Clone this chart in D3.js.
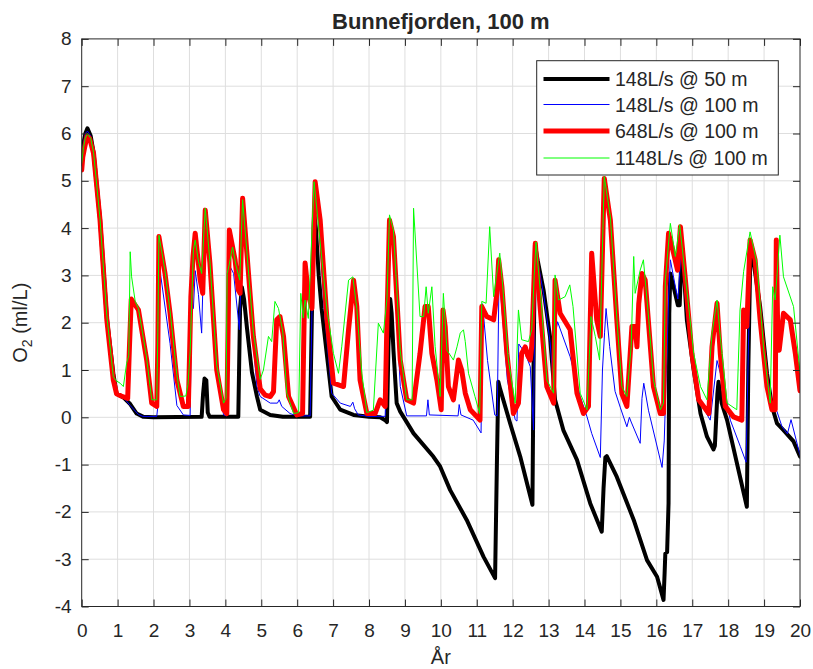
<!DOCTYPE html>
<html><head><meta charset="utf-8">
<script src="https://cdn.jsdelivr.net/npm/d3@7"></script>
<style>body{margin:0;background:#fff}svg{display:block}text{font-family:"Liberation Sans",Arial,sans-serif;fill:#262626}</style>
</head><body><svg id="c" width="813" height="669"></svg>
<script>
const xTicks = d3.range(0, 21, 1);
const yTicks = d3.range(-4, 9, 1);
const seriesNames = ["148L/s @ 50 m", "148L/s @ 100 m", "648L/s @ 100 m", "1148L/s @ 100 m"];
const seriesColors = ["#000000", "#0000ff", "#ff0000", "#00ff00"];
const seriesWidths = [4, 1, 5, 1];

const black50 = [[0,5.35],[0.05,5.8],[0.1,6.0],[0.16,6.11],[0.25,5.95],[0.33,5.6],[0.51,4.2],[0.7,2.1],[0.88,0.93],[0.97,0.5],[1.16,0.42],[1.35,0.28],[1.53,0.08],[1.72,0.01],[2.0,0.0],[3.34,0.01],[3.38,0.5],[3.42,0.82],[3.47,0.78],[3.51,0.1],[3.56,0.01],[4.36,0.01],[4.41,2.3],[4.46,2.75],[4.52,2.5],[4.6,1.9],[4.74,0.95],[4.88,0.44],[4.97,0.16],[5.25,0.05],[5.6,0.01],[6.36,0.01],[6.41,2.2],[6.47,4.34],[6.52,4.0],[6.6,3.0],[6.68,2.3],[6.83,1.3],[6.96,0.44],[7.2,0.16],[7.57,0.05],[8.0,0.01],[8.31,0.0],[8.45,-0.06],[8.5,-0.1],[8.54,1.5],[8.59,2.5],[8.63,2.2],[8.68,1.42],[8.77,0.3],[8.87,0.12],[8.96,0.01],[9.24,-0.34],[9.79,-0.83],[9.98,-1.04],[10.26,-1.54],[10.72,-2.17],[11.19,-2.95],[11.51,-3.4],[11.56,-1.0],[11.6,0.75],[11.65,0.6],[11.93,-0.13],[12.21,-0.83],[12.55,-1.85],[12.58,1.0],[12.62,3.65],[12.7,3.3],[12.86,2.69],[13.04,1.7],[13.18,0.37],[13.41,-0.27],[13.79,-0.9],[14.16,-1.82],[14.48,-2.42],[14.53,-1.5],[14.58,-0.85],[14.62,-0.82],[14.9,-1.26],[15.37,-2.17],[15.74,-3.02],[16.02,-3.37],[16.2,-3.86],[16.23,-3.3],[16.25,-2.88],[16.3,-2.85],[16.34,-1.82],[16.36,2.2],[16.39,3.04],[16.48,2.76],[16.6,2.37],[16.65,2.37],[16.71,3.6],[16.75,3.3],[16.85,2.06],[17.04,1.0],[17.23,0.08],[17.41,-0.41],[17.59,-0.68],[17.63,-0.6],[17.7,0.5],[17.73,0.75],[17.82,0.3],[17.97,-0.06],[18.52,-1.89],[18.56,1.0],[18.62,3.55],[18.67,3.47],[18.89,2.34],[19.08,0.93],[19.22,0.23],[19.36,-0.13],[19.54,-0.27],[19.82,-0.51],[20.0,-0.83]];

const blue100 = [[0,5.35],[0.05,5.8],[0.1,6.0],[0.16,6.05],[0.25,5.95],[0.33,5.6],[0.51,4.2],[0.7,2.1],[0.88,0.85],[0.93,0.5],[1.16,0.42],[1.35,0.25],[1.58,0.06],[1.7,0.02],[2.09,0.02],[2.13,0.3],[2.15,3.8],[2.2,3.0],[2.46,1.56],[2.65,0.25],[2.83,0.05],[3.02,0.04],[3.06,2.34],[3.11,2.3],[3.16,3.1],[3.25,2.6],[3.34,1.78],[3.4,3.5],[3.44,4.3],[3.5,3.9],[3.6,3.1],[3.76,1.0],[3.95,0.05],[4.04,0.03],[4.08,2.0],[4.13,3.19],[4.23,3.04],[4.39,1.85],[4.43,2.8],[4.48,4.6],[4.55,4.0],[4.7,2.2],[4.88,0.65],[4.97,0.44],[5.25,0.3],[5.45,0.3],[5.5,0.37],[5.57,0.23],[5.8,0.08],[6.0,0.03],[6.36,0.03],[6.41,2.2],[6.5,4.95],[6.6,4.2],[6.75,2.3],[6.96,0.51],[7.2,0.3],[7.48,0.23],[7.55,0.32],[7.6,0.18],[7.7,0.05],[8.0,0.02],[8.45,0.02],[8.5,1.5],[8.57,4.1],[8.68,3.5],[8.87,0.65],[9.05,0.03],[9.6,0.03],[9.64,0.37],[9.68,0.05],[10.48,0.03],[10.51,0.27],[10.56,0.05],[10.9,-0.06],[11.12,-0.33],[11.16,2.4],[11.3,1.2],[11.5,0.05],[11.57,0.03],[11.62,3.0],[11.7,2.3],[11.85,0.8],[12.07,-0.05],[12.12,-0.08],[12.17,1.55],[12.35,1.35],[12.49,1.07],[12.58,-0.27],[12.61,2.0],[12.64,3.6],[12.7,3.3],[12.86,2.6],[13.04,1.6],[13.15,0.6],[13.2,1.8],[13.25,2.02],[13.6,1.28],[13.88,0.44],[14.07,0.01],[14.2,-0.34],[14.44,-0.85],[14.5,1.0],[14.56,1.8],[14.6,2.3],[14.7,1.5],[14.85,0.55],[15.0,0.2],[15.18,-0.2],[15.25,0.0],[15.3,-0.1],[15.55,-0.55],[15.6,0.4],[15.65,0.72],[15.78,0.15],[16.16,-1.06],[16.22,-0.5],[16.3,1.5],[16.34,2.5],[16.39,3.33],[16.53,2.76],[16.6,2.5],[16.7,3.6],[16.85,2.1],[17.04,1.1],[17.23,0.3],[17.5,-0.06],[17.66,1.0],[17.69,1.2],[17.88,0.65],[18.06,-0.06],[18.34,-0.62],[18.5,-0.95],[18.55,1.0],[18.62,3.5],[18.7,3.4],[18.89,2.3],[19.08,0.93],[19.22,0.3],[19.36,0.12],[19.5,-0.2],[19.65,-0.35],[19.75,-0.05],[20.0,-0.8]];

const red648 = [[0,5.23],[0.03,5.5],[0.08,5.7],[0.15,5.95],[0.22,5.9],[0.33,5.58],[0.51,4.17],[0.7,2.06],[0.88,0.79],[0.97,0.5],[1.1,0.45],[1.28,0.4],[1.33,1.5],[1.38,2.5],[1.49,2.37],[1.58,2.27],[1.81,1.21],[1.95,0.3],[2.09,0.23],[2.12,1.5],[2.15,3.82],[2.32,3.04],[2.46,2.2],[2.65,0.79],[2.83,0.23],[2.97,0.23],[3.04,2.55],[3.1,3.4],[3.16,3.89],[3.3,2.9],[3.37,2.62],[3.44,4.38],[3.57,3.26],[3.76,1.0],[3.95,0.16],[4.04,0.08],[4.08,2.0],[4.11,3.96],[4.27,3.33],[4.36,2.69],[4.41,2.62],[4.48,4.63],[4.6,3.47],[4.78,1.71],[4.97,0.6],[5.11,0.47],[5.25,0.44],[5.34,0.54],[5.43,2.06],[5.52,2.13],[5.62,1.71],[5.76,0.44],[5.99,0.05],[6.15,0.08],[6.18,1.5],[6.22,3.26],[6.31,2.6],[6.41,2.3],[6.5,4.98],[6.64,4.17],[6.83,2.06],[7.01,0.72],[7.29,0.65],[7.43,1.85],[7.57,2.9],[7.66,2.34],[7.75,0.79],[7.94,0.08],[8.17,0.08],[8.31,0.37],[8.45,0.23],[8.5,2.06],[8.57,4.17],[8.68,3.82],[8.87,1.21],[9.05,0.37],[9.24,0.3],[9.42,1.35],[9.56,2.34],[9.65,2.34],[9.75,1.35],[9.89,0.79],[10.01,0.16],[10.06,2.27],[10.12,1.92],[10.21,0.65],[10.35,0.37],[10.49,1.21],[10.58,1.0],[10.68,0.51],[10.82,0.16],[11.09,-0.06],[11.14,2.34],[11.28,2.13],[11.47,2.06],[11.56,2.62],[11.61,3.33],[11.7,2.76],[11.84,1.35],[12.02,0.08],[12.16,0.3],[12.25,1.35],[12.35,1.49],[12.42,1.3],[12.49,1.21],[12.53,1.5],[12.63,3.68],[12.77,2.27],[12.95,0.65],[13.14,0.3],[13.18,2.9],[13.32,2.2],[13.6,1.85],[13.79,0.51],[13.97,0.08],[14.11,0.23],[14.2,3.47],[14.34,2.06],[14.44,1.71],[14.55,5.05],[14.72,4.17],[14.9,2.06],[15.04,0.5],[15.18,0.23],[15.32,1.92],[15.41,1.92],[15.46,1.49],[15.51,2.4],[15.6,3.04],[15.69,2.9],[15.92,0.65],[16.11,0.08],[16.2,0.08],[16.25,2.76],[16.34,3.89],[16.48,3.47],[16.59,3.11],[16.67,4.03],[16.81,2.9],[16.99,1.35],[17.18,0.37],[17.46,0.08],[17.55,1.49],[17.69,2.41],[17.78,1.35],[17.92,0.23],[18.15,0.01],[18.38,-0.06],[18.43,2.27],[18.52,1.92],[18.61,3.75],[18.75,3.33],[18.89,2.06],[19.08,0.65],[19.22,0.16],[19.31,0.16],[19.34,3.75],[19.38,1.8],[19.42,1.42],[19.54,2.2],[19.73,2.06],[19.87,1.35],[20.0,0.56]];

const green1148 = [[0,5.37],[0.05,5.7],[0.1,5.9],[0.16,6.0],[0.25,5.9],[0.33,5.6],[0.51,4.2],[0.7,2.15],[0.88,0.86],[0.95,0.78],[1.07,0.72],[1.16,0.65],[1.25,1.14],[1.31,1.3],[1.35,3.5],[1.39,2.97],[1.49,2.45],[1.58,2.3],[1.8,1.3],[1.95,0.37],[2.09,0.37],[2.12,1.8],[2.15,3.85],[2.32,3.1],[2.46,2.25],[2.65,0.9],[2.74,0.44],[2.9,0.45],[2.96,0.7],[3.02,1.4],[3.11,3.54],[3.16,3.75],[3.25,3.3],[3.34,3.04],[3.44,4.42],[3.57,3.3],[3.76,1.1],[3.95,0.3],[4.02,0.4],[4.05,3.04],[4.1,3.2],[4.2,3.6],[4.3,3.2],[4.4,2.9],[4.48,4.6],[4.6,3.5],[4.78,1.8],[4.97,0.8],[5.06,1.0],[5.2,1.71],[5.29,1.6],[5.38,2.45],[5.48,2.3],[5.6,1.8],[5.71,0.51],[5.9,0.08],[6.04,0.1],[6.1,2.62],[6.17,2.1],[6.22,2.48],[6.31,2.09],[6.47,4.98],[6.6,4.0],[6.83,2.27],[7.01,1.35],[7.15,0.93],[7.24,1.49],[7.43,2.9],[7.55,2.97],[7.66,2.3],[7.8,0.93],[7.94,0.1],[8.12,0.15],[8.26,1.99],[8.4,1.78],[8.5,2.5],[8.57,4.28],[8.68,3.96],[8.87,1.4],[9.05,0.37],[9.2,0.37],[9.24,4.42],[9.42,2.13],[9.52,2.13],[9.59,2.76],[9.65,2.2],[9.75,2.76],[9.84,1.5],[9.98,0.44],[10.07,2.62],[10.17,1.42],[10.35,1.21],[10.45,1.49],[10.54,1.78],[10.63,1.85],[10.68,1.6],[10.77,0.93],[10.95,0.44],[11.08,0.08],[11.14,2.45],[11.26,2.41],[11.36,4.03],[11.47,2.55],[11.55,3.0],[11.64,3.47],[11.72,2.8],[11.88,1.21],[12.07,0.3],[12.16,2.27],[12.25,1.64],[12.44,1.6],[12.53,1.85],[12.6,3.0],[12.65,3.71],[12.8,2.4],[12.95,0.79],[13.14,0.51],[13.18,3.01],[13.28,2.48],[13.46,2.55],[13.59,2.8],[13.68,2.34],[13.88,0.51],[14.07,0.16],[14.18,2.13],[14.3,1.71],[14.42,1.21],[14.55,5.09],[14.72,4.24],[14.9,2.1],[15.04,0.65],[15.18,0.44],[15.3,1.5],[15.37,3.4],[15.41,2.62],[15.55,3.11],[15.64,3.33],[15.79,2.06],[15.92,0.79],[16.11,0.16],[16.2,0.3],[16.25,2.9],[16.39,4.1],[16.53,3.4],[16.65,4.07],[16.81,2.97],[17.04,1.35],[17.23,0.65],[17.41,0.37],[17.55,1.78],[17.69,2.48],[17.78,1.71],[17.97,0.3],[18.24,0.16],[18.33,2.27],[18.43,3.08],[18.61,3.92],[18.8,3.26],[18.99,1.42],[19.17,0.3],[19.24,2.76],[19.31,2.48],[19.44,3.85],[19.54,2.97],[19.82,2.34],[20.0,0.95]];

const seriesData = [black50, blue100, red648, green1148];

const svg = d3.select("#c");
const L = 81.7, R = 800, T = 38.9, B = 606.5;
const x = d3.scaleLinear().domain([0, 20]).range([L, R]);
const y = d3.scaleLinear().domain([-4, 8]).range([B, T]);
const axisColor = "#262626";

// grid
const g = svg.append("g");
g.selectAll(".gx").data(xTicks.slice(1, -1)).enter().append("line")
  .attr("x1", d => x(d)).attr("x2", d => x(d)).attr("y1", T).attr("y2", B)
  .attr("stroke", "#dedede").attr("stroke-width", 1);
g.selectAll(".gy").data(yTicks.slice(1, -1)).enter().append("line")
  .attr("y1", d => y(d)).attr("y2", d => y(d)).attr("x1", L).attr("x2", R)
  .attr("stroke", "#dedede").attr("stroke-width", 1);

// clip
svg.append("clipPath").attr("id", "clip").append("rect")
  .attr("x", L).attr("y", T).attr("width", R - L).attr("height", B - T);

const line = d3.line().x(d => x(d[0])).y(d => y(d[1])).curve(d3.curveLinear);
const lines = svg.append("g").attr("clip-path", "url(#clip)");
seriesData.forEach((s, i) => {
  lines.append("path").attr("d", line(s)).attr("fill", "none")
    .attr("stroke", seriesColors[i]).attr("stroke-width", seriesWidths[i])
    .attr("stroke-linejoin", "round").attr("stroke-linecap", "round");
});

// axes
const tl = 7;
const fmt = d => String(d);
const xb = svg.append("g").attr("transform", `translate(0,${B})`)
  .call(d3.axisBottom(x).tickValues(xTicks).tickSize(-tl).tickPadding(17).tickFormat(fmt));
const xt = svg.append("g").attr("transform", `translate(0,${T})`)
  .call(d3.axisTop(x).tickValues(xTicks).tickSize(-tl).tickFormat(""));
const yl = svg.append("g").attr("transform", `translate(${L},0)`)
  .call(d3.axisLeft(y).tickValues(yTicks).tickSize(-tl).tickPadding(10).tickFormat(fmt));
const yr = svg.append("g").attr("transform", `translate(${R},0)`)
  .call(d3.axisRight(y).tickValues(yTicks).tickSize(-tl).tickFormat(""));
[xb, xt, yl, yr].forEach(a => {
  a.select(".domain").remove();
  a.selectAll("line").attr("stroke", axisColor);
  a.selectAll("text").attr("font-size", 19).attr("fill", axisColor)
    .attr("font-family", '"Liberation Sans", Arial, sans-serif');
});
svg.append("rect").attr("x", L).attr("y", T).attr("width", R - L).attr("height", B - T)
  .attr("fill", "none").attr("stroke", axisColor).attr("stroke-width", 1);

// labels
svg.append("text").attr("x", (L + R) / 2).attr("y", 29).attr("text-anchor", "middle")
  .attr("font-size", 22).attr("font-weight", "bold").attr("fill", "#000").text("Bunnefjorden, 100 m");
svg.append("text").attr("x", (L + R) / 2).attr("y", 664).attr("text-anchor", "middle")
  .attr("font-size", 20).text("År");
const yt = svg.append("text").attr("transform", `translate(27,${(T + B) / 2}) rotate(-90)`)
  .attr("text-anchor", "middle").attr("font-size", 20);
yt.append("tspan").text("O");
yt.append("tspan").attr("font-size", 14).attr("dy", 5).text("2");
yt.append("tspan").attr("dy", -5).text(" (ml/L)");

// legend
const lg = svg.append("g");
lg.append("rect").attr("x", 536.7).attr("y", 60.7).attr("width", 241.6).attr("height", 114.3)
  .attr("fill", "#fff").attr("stroke", axisColor).attr("stroke-width", 1);
const rowsY = [79, 104.5, 131, 158];
seriesNames.forEach((n, i) => {
  lg.append("line").attr("x1", 543.5).attr("x2", 609.5).attr("y1", rowsY[i]).attr("y2", rowsY[i])
    .attr("stroke", seriesColors[i]).attr("stroke-width", seriesWidths[i]);
  lg.append("text").attr("x", 615).attr("y", rowsY[i] + 7).attr("font-size", 19.5).attr("fill", "#000").text(n);
});
</script></body></html>
